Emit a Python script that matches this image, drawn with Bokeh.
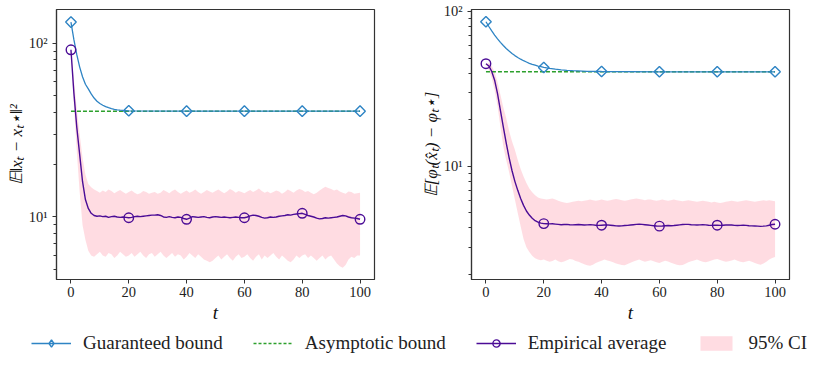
import math
from bokeh.plotting import figure
from bokeh.models import Range1d, FixedTicker, Legend, LegendItem, Title
from bokeh.layouts import column, row
from bokeh.embed import file_html
from bokeh.resources import INLINE

# ---------------- data ----------------
t = list(range(101))
t_marks = [0, 20, 40, 60, 80, 100]

# left panel: E||x_t - x_t*||^2
t_guar_left = list(range(21)) + [40, 60, 80, 100]
guar_left = [132, 105, 86, 73, 64, 58, 54.5, 51, 48.3, 46.3, 44.9, 43.9, 43.1, 42.5, 42.0, 41.6,
             41.35, 41.15, 41.0, 40.9, 40.8, 40.6, 40.6, 40.6, 40.6]
t_asym = [0, 100]
asym_left = [40.6, 40.6]
emp_left = [91.5, 52, 33, 23, 16, 12.6, 11.2, 10.5, 10.2, 10.1,
            10.15, 10.05, 10.1, 9.95, 10.05, 10.1, 10.0, 9.95, 10.0, 9.95,
            9.9, 9.95, 10.05, 10.1, 10.05, 10.1, 10.15, 10.2, 10.25, 10.25,
            10.3, 10.2, 10.0, 9.95, 10.05, 9.95, 9.9, 10.0, 9.95, 9.8,
            9.7, 9.85, 10.05, 10.0, 9.95, 10.0, 10.05, 9.95, 9.9, 10.0,
            10.05, 10.0, 9.95, 10.0, 9.95, 9.9, 9.95, 10.0, 9.95, 9.9,
            9.9, 10.0, 10.15, 10.25, 10.2, 10.1, 9.95, 9.85, 9.9, 10.0,
            9.95, 10.0, 10.1, 10.15, 10.2, 10.3, 10.25, 10.35, 10.4, 10.45,
            10.5, 10.35, 10.2, 10.1, 10.0, 9.85, 9.75, 9.8, 9.9, 9.85,
            9.9, 9.95, 10.0, 10.1, 10.2, 10.15, 10.0, 9.9, 9.85, 9.8, 9.7]
upper_left = [91.5, 62, 42, 30, 22, 17.5, 15.5, 14.8, 14.4, 14.1,
              13.8, 14.2, 13.9, 14.4, 14.1, 13.7, 14.0, 14.3, 13.9, 13.6,
              13.9, 14.2, 13.8, 13.5, 13.7, 14.1, 13.9, 13.6, 13.8, 13.9,
              13.6, 13.8, 14.3, 14.0, 13.7, 14.1, 14.4, 13.9, 13.6, 13.9,
              14.2, 13.8, 14.0, 14.4, 13.9, 13.6, 13.9, 14.3, 14.0, 13.8,
              14.1, 14.4, 14.0, 13.7, 14.0, 14.5, 14.2, 13.8, 14.1, 13.9,
              13.7, 14.0, 14.3, 13.9, 14.2, 14.6, 14.1, 13.8, 14.0, 13.7,
              13.9, 14.2, 14.0, 13.6, 13.9, 14.4, 14.1, 13.8, 14.2, 14.5,
              14.3, 13.9, 14.1, 13.8, 13.5, 13.8, 14.2, 14.6, 14.9, 14.7,
              14.5, 14.2, 14.4, 14.0, 13.8, 13.6, 14.0, 13.9, 13.6, 13.7, 13.8]
lower_left = [91.5, 44, 24, 14, 9.0, 7.4, 6.4, 6.0, 5.9, 6.1,
              6.3, 6.0, 5.9, 6.2, 6.1, 5.8, 6.0, 6.3, 6.1, 5.9,
              6.0, 6.2, 5.9, 6.1, 6.3, 6.0, 5.8, 6.1, 6.2, 5.9,
              6.1, 6.3, 6.0, 5.8, 6.0, 6.2, 5.9, 6.1, 6.0, 5.7,
              5.9, 6.2, 6.0, 5.8, 6.1, 5.9, 5.7, 5.6, 5.5, 5.6,
              5.8, 6.0, 5.7, 5.9, 6.1, 5.8, 5.6, 5.9, 6.1, 5.8,
              5.9, 6.1, 5.8, 5.6, 5.9, 6.1, 5.7, 6.0, 5.8, 6.0,
              6.2, 5.9, 5.7, 6.0, 5.8, 5.6, 5.5, 5.7, 6.0, 5.8,
              6.0, 6.1, 5.8, 6.0, 5.8, 5.6, 5.8, 6.0, 5.7, 5.9,
              6.0, 5.7, 5.4, 5.2, 5.1, 5.3, 5.7, 5.9, 5.8, 6.0, 6.0]

# right panel: E[phi_t(x_hat_t) - phi_t*]
t_guar_right = list(range(21)) + [22, 24, 26, 28, 30, 35, 40, 60, 80, 100]
guar_right = [85.9, 80.0, 74.9, 70.4, 66.6, 63.2, 60.3, 57.7, 55.5, 53.6, 51.9, 50.5, 49.2, 48.1,
              47.2, 46.3, 45.6, 45.0, 44.4, 44.0, 43.5, 42.9, 42.4, 42.0, 41.7, 41.5, 41.1, 40.97,
              40.8, 40.8, 40.8]
asym_right = [40.8, 40.8]
emp_right = [46, 44.5, 41, 36, 29.5, 23, 18, 14.2, 11.4, 9.4, 8.0, 7.0, 6.2, 5.6, 5.15, 4.85,
             4.62, 4.46, 4.36, 4.3,
             4.27, 4.26, 4.25, 4.26, 4.24, 4.22, 4.2, 4.21, 4.22, 4.2,
             4.19, 4.2, 4.21, 4.2, 4.18, 4.19, 4.2, 4.19, 4.17, 4.16,
             4.17, 4.18, 4.19, 4.17, 4.15, 4.13, 4.12, 4.13, 4.15, 4.16,
             4.18, 4.2, 4.22, 4.23, 4.22, 4.2, 4.18, 4.16, 4.14, 4.12,
             4.11, 4.12, 4.14, 4.15, 4.14, 4.15, 4.17, 4.19, 4.21, 4.22,
             4.22, 4.2, 4.19, 4.18, 4.19, 4.2, 4.19, 4.17, 4.16, 4.17,
             4.17, 4.16, 4.17, 4.18, 4.19, 4.18, 4.16, 4.15, 4.16, 4.17,
             4.16, 4.14, 4.13, 4.12, 4.11, 4.1, 4.11, 4.13, 4.17, 4.21, 4.23]
upper_right = [46, 46.5, 44.5, 40.5, 35, 29, 24, 20.5, 17, 14.5, 12.8, 11, 9.6, 8.6, 7.8, 7.2,
               6.8, 6.5, 6.3, 6.2,
               6.15, 6.1, 6.15, 6.2, 6.1, 6.0, 5.9, 5.85, 5.8, 5.85,
               5.9, 5.95, 6.0, 5.95, 6.0, 6.05, 6.1, 6.05, 6.0, 6.05,
               6.1, 6.05, 6.0, 6.05, 6.1, 6.15, 6.1, 6.05, 6.0, 6.05,
               6.1, 6.15, 6.2, 6.15, 6.1, 6.05, 6.1, 6.1, 6.05, 6.0,
               6.05, 6.1, 6.05, 6.0, 6.05, 6.1, 6.05, 6.0, 5.95, 6.0,
               6.05, 6.0, 5.95, 5.9, 5.95, 6.0, 5.95, 5.9, 5.85, 5.9,
               5.85, 5.8, 5.85, 5.9, 5.95, 6.0, 5.95, 5.9, 5.95, 6.0,
               6.05, 6.0, 5.95, 5.9, 5.95, 6.0, 6.05, 6.0, 6.05, 6.0, 5.95]
lower_right = [46, 42, 37, 31, 24.5, 18, 13.5, 11, 9.2, 7.5, 6.1, 5.0, 4.1, 3.4, 3.0, 2.8,
               2.65, 2.55, 2.5, 2.48,
               2.5, 2.46, 2.42, 2.45, 2.5, 2.44, 2.4, 2.43, 2.48, 2.52,
               2.5, 2.45, 2.42, 2.38, 2.33, 2.3, 2.28, 2.32, 2.38, 2.42,
               2.46, 2.5, 2.47, 2.44, 2.4, 2.36, 2.33, 2.31, 2.3, 2.34,
               2.39, 2.43, 2.47, 2.5, 2.46, 2.42, 2.45, 2.48, 2.44, 2.4,
               2.38, 2.42, 2.46, 2.43, 2.39, 2.35, 2.32, 2.3, 2.31, 2.35,
               2.4, 2.44, 2.47, 2.5, 2.46, 2.42, 2.4, 2.43, 2.47, 2.5,
               2.52, 2.49, 2.45, 2.42, 2.44, 2.47, 2.5, 2.46, 2.42, 2.4,
               2.43, 2.46, 2.42, 2.38, 2.34, 2.32, 2.36, 2.42, 2.5, 2.56, 2.6]

x_ticks = [0, 20, 40, 60, 80, 100]
y_major = [10, 100]
y_minor = [2, 3, 4, 5, 6, 7, 8, 9, 20, 30, 40, 50, 60, 70, 80, 90]
y_labels = {10: "10¹", 100: "10²"}

labels = ["Guaranteed bound", "Asymptotic bound", "Empirical average", "95% CI"]
xlabel = "t"
ylabel_left = "𝔼‖xₜ − xₜ⋆‖²"
ylabel_right = "𝔼[φₜ(x̂ₜ) − φₜ⋆]"

# ---------------- style ----------------
BLUE = "#2e84c4"
GREEN = "#2ca02c"
PURPLE = "#4b0c96"
PINK = "pink"
FONT = "Liberation Serif"
FRAME = "#333333"


def subset(ts, ys):
    return [y for x, y in zip(ts, ys) if x in t_marks]


def add_series(p, tg, g, asym, e, lo, up, legend_style=False):
    rc = p.varea(x=t, y1=lo, y2=up, fill_color=PINK, fill_alpha=0.55)
    ra = p.line(t_asym, asym, line_color=GREEN, line_width=1.5,
                line_dash="3 2" if legend_style else "4 2")
    rg_l = p.line(tg, g, line_color=BLUE, line_width=1.3)
    if legend_style:
        rg_m = p.scatter(t_marks, subset(tg, g), marker="diamond", size=12,
                         line_color=BLUE, fill_color=None, line_width=1.4)
    else:
        rg_m = p.scatter(t_marks, subset(tg, g), marker="square", angle=math.pi / 4, size=7.5,
                         line_color=BLUE, fill_color=None, line_width=1.4)
    re_l = p.line(t, e, line_color=PURPLE, line_width=1.4)
    re_m = p.scatter(t_marks, subset(t, e), marker="circle", size=7 if legend_style else 9.5,
                     line_color=PURPLE, fill_color=None, line_width=1.4)
    return rg_l, rg_m, ra, re_l, re_m, rc


def make_panel(width, border_left, border_right, yr, tg, g, asym, e, lo, up, ylabel):
    p = figure(width=width, height=322, y_axis_type="log",
               x_range=Range1d(-5, 105), y_range=Range1d(*yr),
               output_backend="svg", toolbar_location=None,
               min_border_left=border_left, min_border_right=border_right,
               min_border_top=9, min_border_bottom=40)
    p.grid.visible = False
    p.outline_line_color = FRAME
    p.outline_line_width = 1.2
    add_series(p, tg, g, asym, e, lo, up)

    p.xaxis.ticker = FixedTicker(ticks=x_ticks, minor_ticks=[])
    p.yaxis.ticker = FixedTicker(ticks=y_major, minor_ticks=y_minor)
    p.yaxis.major_label_overrides = y_labels
    for ax in (p.xaxis, p.yaxis):
        ax.axis_line_color = FRAME
        ax.axis_line_width = 1.2
        ax.major_tick_line_color = FRAME
        ax.minor_tick_line_color = FRAME
        ax.major_tick_in = 0
        ax.major_tick_out = 4
        ax.minor_tick_in = 0
        ax.minor_tick_out = 3
        ax.major_label_text_font = FONT
        ax.major_label_text_font_size = "14.5px"
        ax.major_label_text_color = "#222222"
    p.xaxis.major_label_standoff = 3
    p.yaxis.major_label_standoff = 5
    p.add_layout(Title(text=xlabel, align="center", text_font=FONT, text_font_size="19px",
                       text_font_style="italic", text_color="#111111", standoff=0), "below")
    p.add_layout(Title(text=ylabel, align="center", text_font=FONT, text_font_size="17px",
                       text_font_style="italic", text_color="#111111", standoff=0), "left")
    return p


p1 = make_panel(415, 56, 41, (4.37, 156), t_guar_left, guar_left, asym_left,
                emp_left, lower_left, upper_left, ylabel_left)
p2 = make_panel(399, 56, 25, (1.86, 103), t_guar_right, guar_right, asym_right,
                emp_right, lower_right, upper_right, ylabel_right)

# legend strip (same series, drawn outside its visible range so only the legend shows)
p3 = figure(width=814, height=44, x_range=Range1d(-5, 105), y_range=Range1d(1000, 2000),
            x_axis_type=None, y_axis_type=None, output_backend="svg", toolbar_location=None,
            min_border=0)
p3.outline_line_color = None
p3.grid.visible = False
rg_l, rg_m, ra, re_l, re_m, rc = add_series(p3, t_guar_left, guar_left, asym_left,
                                            emp_left, lower_left, upper_left, legend_style=True)
legend = Legend(items=[LegendItem(label=labels[0], renderers=[rg_l, rg_m]),
                       LegendItem(label=labels[1], renderers=[ra]),
                       LegendItem(label=labels[2], renderers=[re_l, re_m]),
                       LegendItem(label=labels[3], renderers=[rc])],
                orientation="horizontal", location=(31, 12),
                glyph_width=40, glyph_height=18, label_standoff=12, spacing=30,
                padding=0, margin=0, border_line_color=None, background_fill_alpha=0,
                label_text_font=FONT, label_text_font_size="19px", label_text_color="#222222",
                label_height=20)
p3.add_layout(legend, "center")

layout = column(row(p1, p2), p3)
open("out.html", "w").write(file_html(layout, INLINE))
